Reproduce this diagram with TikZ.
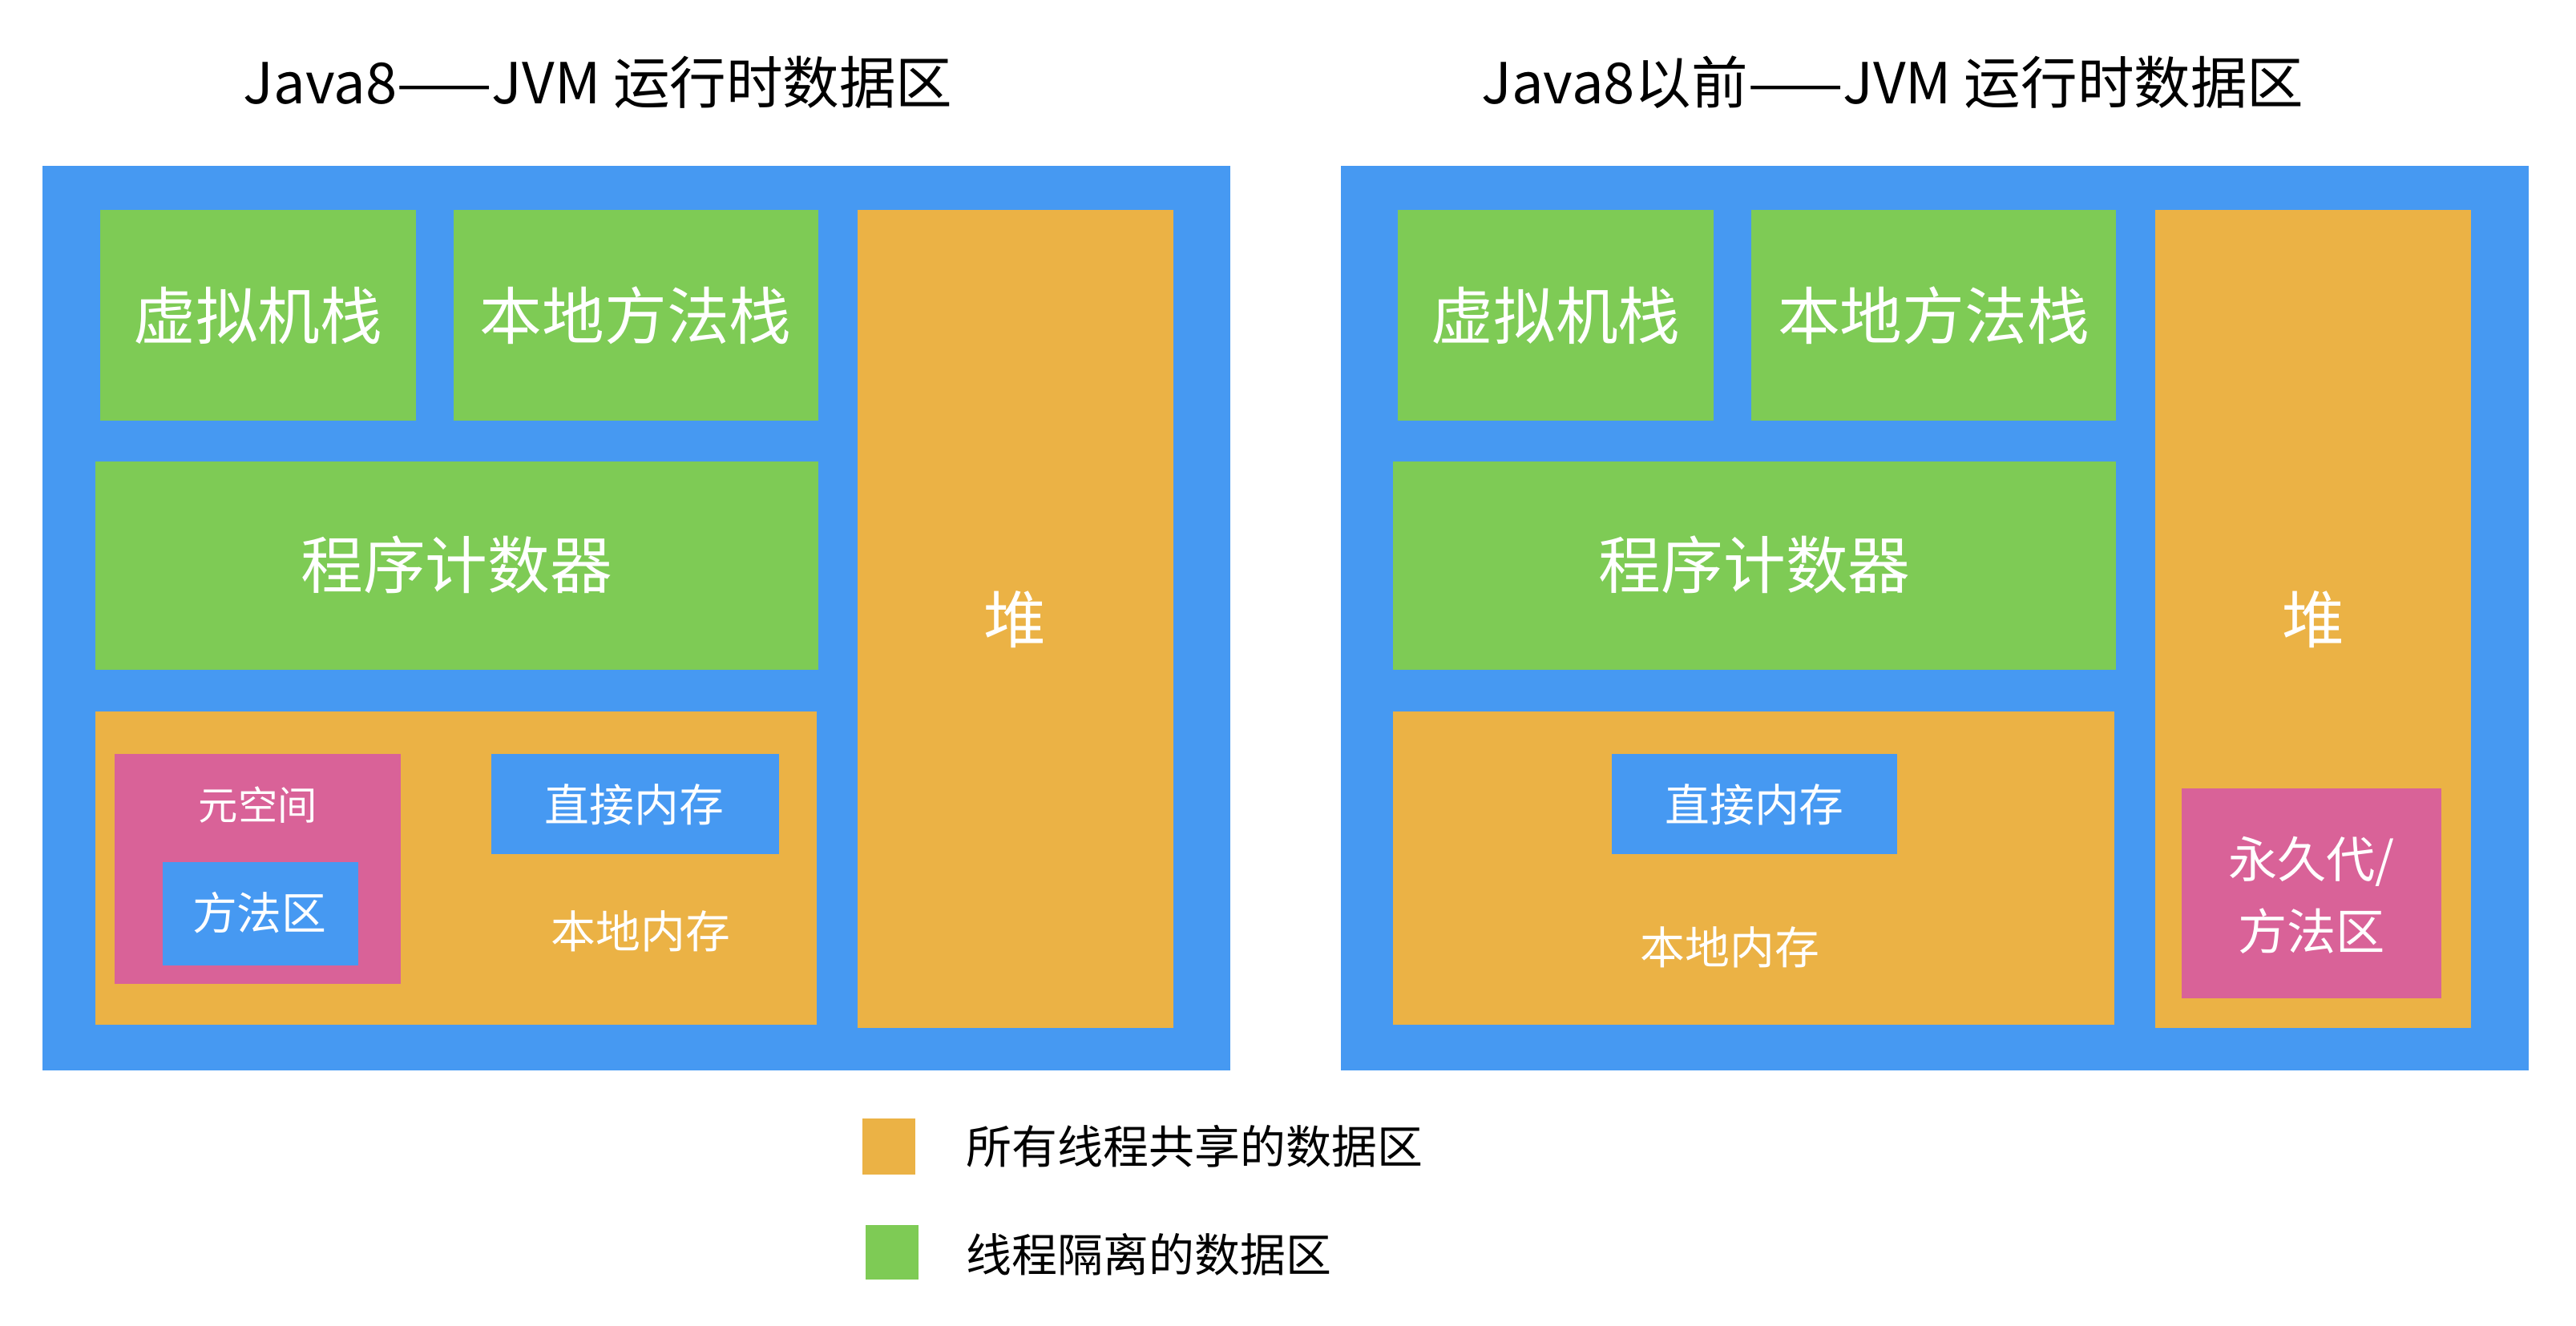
\documentclass[tikz,border=0pt]{standalone}
\usepackage{fontspec}
\setmainfont{Noto Sans CJK SC}
\usetikzlibrary{positioning}
\definecolor{jvmblue}{RGB}{70,153,242}
\definecolor{jvmgreen}{RGB}{126,203,85}
\definecolor{jvmorange}{RGB}{235,178,69}
\definecolor{jvmpink}{RGB}{217,98,152}

\begin{document}
\begin{tikzpicture}[x=0.02cm,y=-0.02cm,
  title/.style={black,inner sep=0pt,font=\fontsize{19.6}{22}\selectfont},
  big/.style={white,inner sep=0pt,font=\fontsize{21.6}{24}\selectfont},
  small/.style={white,inner sep=0pt,font=\fontsize{15.5}{18}\selectfont},
  tiny/.style={white,inner sep=0pt,font=\fontsize{13.7}{16}\selectfont},
  legend/.style={black,inner sep=0pt,anchor=west,font=\fontsize{15.8}{18}\selectfont}]
  \useasboundingbox[fill=white] (0,0) rectangle (1568,807);
  % titles
  \node[title] (t8) at (364,50) {Java8——JVM 运行时数据区};
  \node[title] (t7) at (1152,50) {Java8以前——JVM 运行时数据区};
  % Java8
  \fill[jvmblue] (26,101) rectangle (749,652);
  \fill[jvmgreen] (61,128) rectangle (253,256);
  \fill[jvmgreen] (276,128) rectangle (498,256);
  \fill[jvmorange] (522,128) rectangle (714,626);
  \fill[jvmgreen] (58,281) rectangle (498,408);
  \fill[jvmorange] (58,433) rectangle (497,624);
  \fill[jvmpink] (70,459) rectangle (244,599);
  \fill[jvmblue] (99,525) rectangle (218,588);
  \fill[jvmblue] (299,459) rectangle (474,520);
  \node[big] (vms) at (157,192) {虚拟机栈};
  \node[big] (nms) at (387,192) {本地方法栈};
  \node[big] (heap) at (618,377) {堆};
  \node[big] (pc) at (278,344) {程序计数器};
  \node[tiny] (meta) at (157,490) {元空间};
  \node[small] (ma) at (158,556) {方法区};
  \node[small] (dm) at (386,490) {直接内存};
  \node[small] (nm) at (390,567) {本地内存};
  % Java7
  \fill[jvmblue] (816,101) rectangle (1539,652);
  \fill[jvmgreen] (851,128) rectangle (1043,256);
  \fill[jvmgreen] (1066,128) rectangle (1288,256);
  \fill[jvmorange] (1312,128) rectangle (1504,626);
  \fill[jvmgreen] (848,281) rectangle (1288,408);
  \fill[jvmorange] (848,433) rectangle (1287,624);
  \fill[jvmblue] (981,459) rectangle (1155,520);
  \fill[jvmpink] (1328,480) rectangle (1486,608);
  \node[big] (vms7) at (947,192) {虚拟机栈};
  \node[big] (nms7) at (1177,192) {本地方法栈};
  \node[big] (heap7) at (1408,377) {堆};
  \node[big] (pc7) at (1068,344) {程序计数器};
  \node[small] (dm7) at (1068,490) {直接内存};
  \node[small] (nm7) at (1053,577) {本地内存};
  \node[small,font=\fontsize{17}{25}\selectfont,align=center] (pg7) at (1407,545) {永久代/\\方法区};
  % legend
  \fill[jvmorange] (525,681) rectangle (557,715);
  \fill[jvmgreen] (527,746) rectangle (559,779);
  \node[legend] (lshared) at (588,698) {所有线程共享的数据区};
  \node[legend] (lthread) at (588,764) {线程隔离的数据区};
\end{tikzpicture}
\end{document}
